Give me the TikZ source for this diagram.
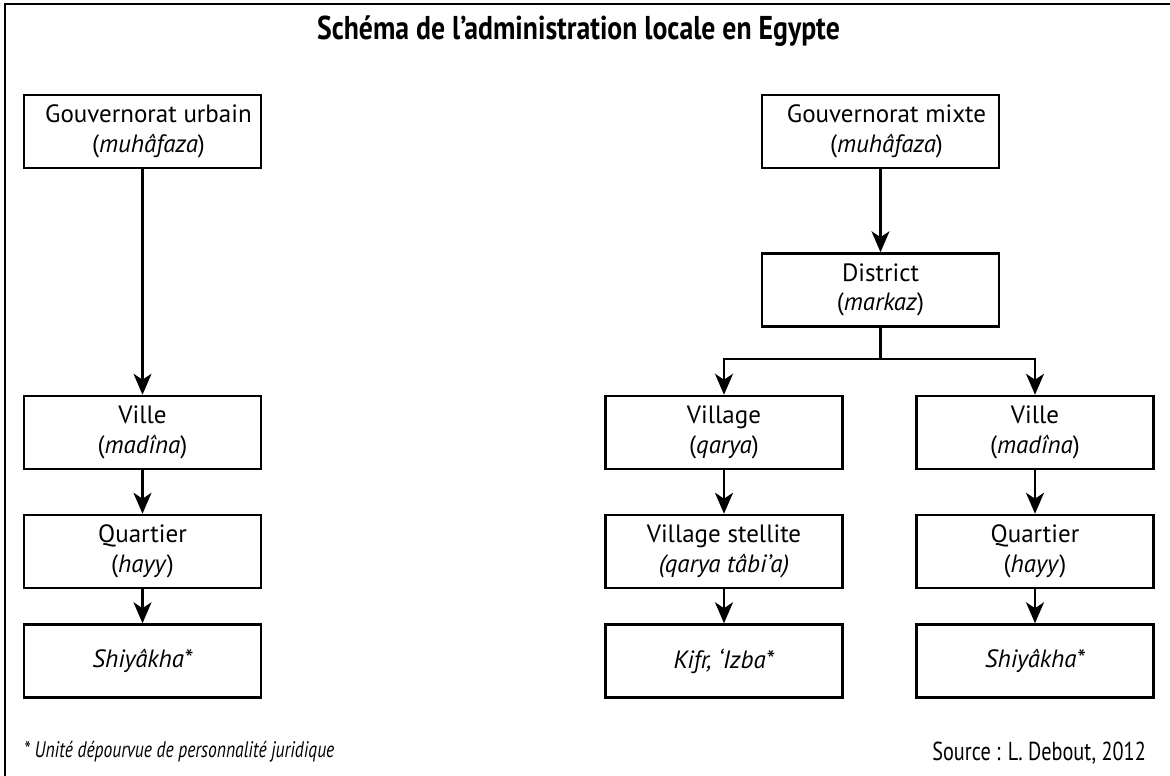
\documentclass[tikz,border=0pt]{standalone}
\usepackage{fontspec}
\setmainfont{PT Sans}
\newfontfamily\condfont[FakeStretch=0.78]{PT Sans}
\newfontfamily\titlefont[FakeStretch=0.84]{PT Sans}
\usetikzlibrary{arrows.meta}
\begin{document}
\begin{tikzpicture}[x=1pt,y=-1pt,
  box/.style={draw, line width=2.5pt, minimum width=237pt, minimum height=73pt,
    inner sep=0pt, align=center, font=\fontsize{25}{29.5}\selectfont},
  arr/.style={line width=2.3pt, -{Stealth[length=21pt,width=18pt,inset=6pt]}},
  frameline/.style={line width=2.5pt}]
\useasboundingbox (0,0) rectangle (1170,776);
\draw[frameline] (5,776) -- (5,4) -- (1170,4);
\node[font=\titlefont\bfseries\fontsize{33}{33}\selectfont, anchor=base, inner sep=0pt] (title) at (578.5,40) {Schéma de l’administration locale en Egypte};
% left column
\node[box] (gu) at (142.5,131.5) {\hspace*{12pt}Gouvernorat urbain\\\hspace*{12pt}(\textit{muhâfaza})};
\node[box] (v1) at (142.5,432.5) {Ville\\(\textit{madîna})};
\node[box] (q1) at (142.5,551.5) {Quartier\\(\textit{hayy})};
\node[box] (s1) at (142.5,661) {\textit{Shiyâkha*}};
% right part
\node[box] (gm) at (880.5,131.5) {\hspace*{12pt}Gouvernorat mixte\\\hspace*{12pt}(\textit{muhâfaza})};
\node[box] (d) at (880.5,290) {District\\(\textit{markaz})};
\node[box] (vg) at (724,432.5) {Village\\(\textit{qarya})};
\node[box] (vs) at (724,551.5) {Village stellite\\\textit{(qarya tâbi’a)}};
\node[box] (k) at (724,661) {\textit{Kifr, ‘Izba*}};
\node[box] (v2) at (1035,432.5) {Ville\\(\textit{madîna})};
\node[box] (q2) at (1035,551.5) {Quartier\\(\textit{hayy})};
\node[box] (s2) at (1035,661) {\textit{Shiyâkha*}};
\coordinate (br) at (880.5,359);
% connectors
\draw[arr] (gu) -- (v1);
\draw[arr] (v1) -- (q1);
\draw[arr] (q1) -- (s1);
\draw[arr] (gm) -- (d);
\draw[line width=2.3pt] (d.south) -- (br);
\draw[arr] (br) -| (vg.north);
\draw[arr] (br) -| (v2.north);
\draw[arr] (vg) -- (vs);
\draw[arr] (vs) -- (k);
\draw[arr] (v2) -- (q2);
\draw[arr] (q2) -- (s2);
% texts
\node[font=\condfont\itshape\fontsize{22.5}{22.5}\selectfont, anchor=base west, inner sep=0pt] (note) at (24,757) {* Unité dépourvue de personnalité juridique};
\node[font=\condfont\fontsize{26}{26}\selectfont, anchor=base east, inner sep=0pt] (src) at (1146,760) {Source : L. Debout, 2012};
\end{tikzpicture}
\end{document}
